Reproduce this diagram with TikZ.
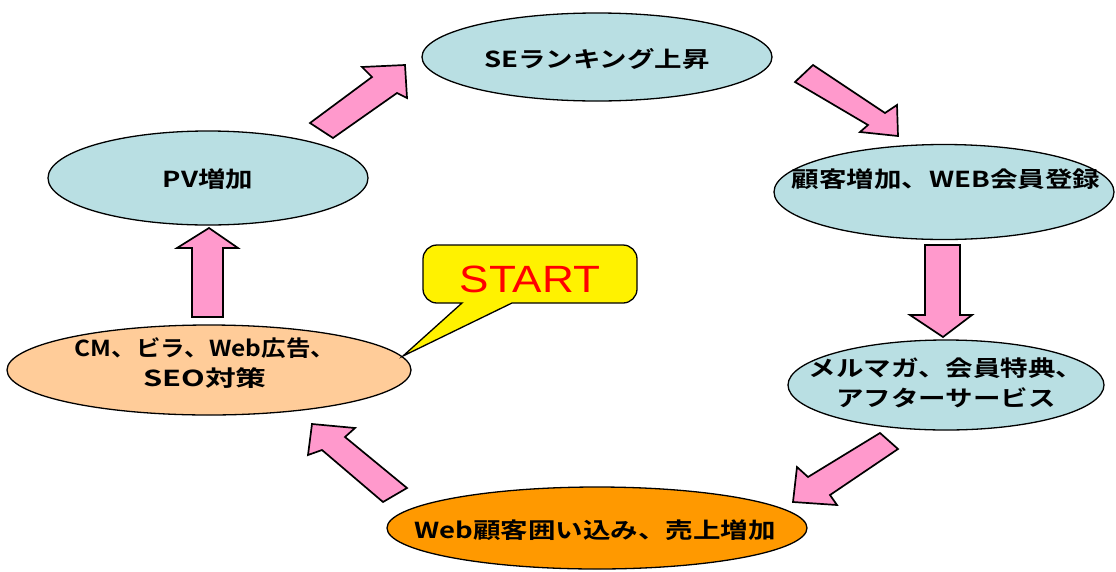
\documentclass[tikz,border=0pt]{standalone}
\usepackage{fontspec}
\usepackage{graphicx}
\newfontfamily\jp{Noto Sans CJK JP}[BoldFont={Noto Sans CJK JP Bold},FakeStretch=1.25]
\newfontfamily\arialf{Liberation Sans}[FakeStretch=1.16]
\usetikzlibrary{shapes.geometric}
\definecolor{lblue}{RGB}{185,223,227}
\definecolor{peach}{RGB}{255,204,153}
\definecolor{orng}{RGB}{255,153,0}
\definecolor{pinkar}{RGB}{255,153,204}
\begin{document}
\begin{tikzpicture}[x=1pt,y=-1pt,
  oval/.style={ellipse, draw=black, line width=1.3pt, inner sep=0pt},
  lbl/.style={font=\jp\bfseries\fontsize{22}{30}\selectfont, align=center, text=black, inner sep=0pt},
  barrow/.style={draw=black, fill=pinkar, line width=1.7pt, line join=miter},
  callout/.style={draw=black, fill=yellow, line width=1.3pt}]
\useasboundingbox[fill=white] (0,0) rectangle (1116,571);

% ellipses
\node[oval, fill=lblue, minimum width=350pt, minimum height=88pt] (se) at (597,57) {};
\node[oval, fill=lblue, minimum width=320pt, minimum height=94pt] (pv) at (208,178) {};
\node[oval, fill=lblue, minimum width=340pt, minimum height=95pt] (kk) at (944,192) {};
\node[oval, fill=lblue, minimum width=316pt, minimum height=90pt] (mm) at (946,385) {};
\node[oval, fill=orng, minimum width=420pt, minimum height=82pt] (wb) at (597,528) {};
\node[oval, fill=peach, minimum width=404pt, minimum height=90pt] (cm) at (209,370) {};

% labels
\node[lbl] (se-t) at (597,59) {SEランキング上昇};
\node[lbl] (pv-t) at (208,179) {PV増加};
\node[lbl] (kk-t) at (946,179) {顧客増加、WEB会員登録};
\node[lbl] (mm-t) at (946,383) {メルマガ、会員特典、\\アフターサービス};
\node[lbl] (wb-t) at (595,530) {Web顧客囲い込み、売上増加};
\node[lbl] (cm-t) at (205,363) {\scalebox{0.89}[1]{CM、ビラ、Web広告、}\\\scalebox{1.12}[1]{SEO対策}};

% block arrows
\draw[barrow] (310,123) -- (372,77) -- (362,67) -- (405,65) -- (407,98) -- (397,93) -- (333,138) -- cycle;
\draw[barrow] (813,65) -- (885,113) -- (897,105) -- (898,136) -- (860,132) -- (868,125) -- (795,82) -- cycle;
\draw[barrow] (925,245) -- (960,245) -- (960,315) -- (972,315) -- (943,337) -- (910,315) -- (925,315) -- cycle;
\draw[barrow] (880,433) -- (898,449) -- (830,495) -- (837,505) -- (793,502) -- (797,467) -- (808,477) -- cycle;
\draw[barrow] (407,488) -- (383,502) -- (322,450) -- (308,455) -- (312,424) -- (355,428) -- (345,437) -- cycle;
\draw[barrow] (192,317) -- (223,317) -- (223,248) -- (238,248) -- (209,228) -- (177,248) -- (192,248) -- cycle;

% START callout
\coordinate (tip) at (403,356);
\draw[callout] (tip) -- (462,303) [rounded corners=14pt] -- (423,303) -- (423,245) -- (637,245) -- (637,303) [sharp corners] -- (512,303) -- cycle;
\node[font=\arialf\fontsize{38}{40}\selectfont, text=red, inner sep=0pt] (start) at (530,279) {START};
\end{tikzpicture}
\end{document}
